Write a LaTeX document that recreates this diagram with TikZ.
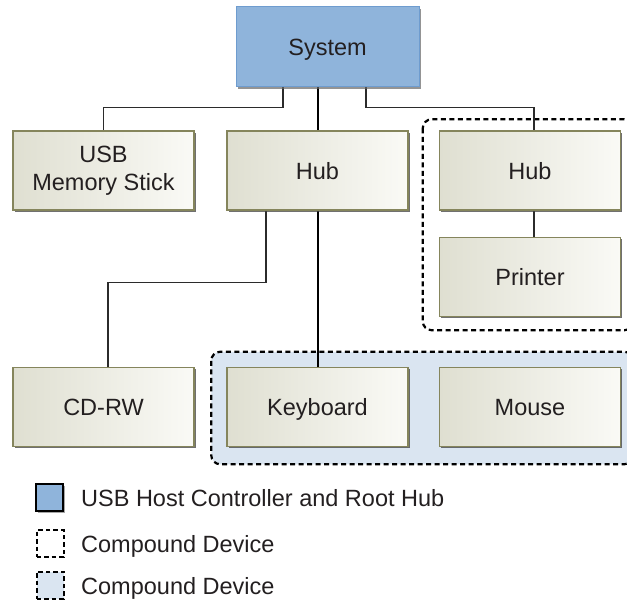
\documentclass[tikz,border=0pt]{standalone}
\usepackage{fontspec}
\setmainfont{Liberation Sans}
\usetikzlibrary{shadows,backgrounds}
\definecolor{sysblue}{HTML}{8FB4DB}
\definecolor{sysedge}{HTML}{6E9CCF}
\definecolor{boxedge}{HTML}{85855C}
\definecolor{boxleft}{HTML}{DFDFD1}
\definecolor{boxright}{HTML}{FAFAF6}
\definecolor{cmpdfill}{HTML}{DAE5F1}
\definecolor{txt}{HTML}{231F20}
\definecolor{wire}{HTML}{2B2B2B}
\tikzset{
  basebox/.style={draw=boxedge, line width=1.5pt, left color=boxleft, right color=boxright,
    minimum width=181pt, minimum height=79pt, text=txt, align=center, inner sep=0pt,
    font=\fontsize{23.5}{28}\selectfont,
    drop shadow={shadow xshift=1.6pt, shadow yshift=-1.6pt, fill=black!75, opacity=0.75}},
  devbox/.style={basebox, text height=17pt, text depth=0pt},
  sysbox/.style={draw=sysedge, line width=1pt, fill=sysblue, minimum width=183pt, minimum height=80pt,
    text=txt, inner sep=0pt, text height=17pt, text depth=0pt, font=\fontsize{23.5}{28}\selectfont,
    drop shadow={shadow xshift=1.6pt, shadow yshift=-1.6pt, fill=black!60, opacity=0.7}},
  wirethin/.style={draw=wire, line width=1.3pt},
  wirethick/.style={draw=black, line width=2pt},
  cmpd/.style={draw=black, line width=2.2pt, dash pattern=on 5pt off 3.5pt, rounded corners=9pt},
  legtext/.style={anchor=base west, text=txt, font=\fontsize{23.5}{28}\selectfont, inner sep=0pt},
  legsq/.style={minimum width=27pt, minimum height=27pt, inner sep=0pt},
}
\begin{document}
\begin{tikzpicture}[x=1pt,y=-1pt]
\useasboundingbox (0,0) rectangle (627,602);

\node[sysbox] (sys) at (327.5,47) {System};
\node[basebox] (usb) at (103.5,170.5) {USB\\Memory Stick};
\node[devbox] (hub1) at (317.5,170.5) {Hub};
\node[devbox] (hub2) at (530,170.5) {Hub};
\node[devbox] (printer) at (530,277) {Printer};
\node[devbox] (cdrw) at (103.5,407) {CD-RW};
\node[devbox] (kbd) at (317.5,407) {Keyboard};
\node[devbox] (mouse) at (530,407) {Mouse};

\begin{scope}[on background layer]
  \clip (0,0) rectangle (627,602);
  \draw[cmpd] ([xshift=-16pt,yshift=11pt]hub2.north west) rectangle ([xshift=12pt,yshift=-13pt]printer.south east);
  \draw[cmpd, fill=cmpdfill] ([xshift=-15pt,yshift=15pt]kbd.north west) rectangle ([xshift=12pt,yshift=-17pt]mouse.south east);
  \draw[wirethin] ([xshift=-44.5pt]sys.south) -- ++(0,20) -| (usb.north);
  \draw[wirethin] ([xshift=38.5pt]sys.south) -- ++(0,20) -| ([xshift=4pt]hub2.north);
  \draw[wirethick] (sys.south -| hub1.north) -- (hub1.north);
  \draw[wirethick] (hub1.south) -- (kbd.north);
  \draw[wirethin] ([xshift=-51.5pt]hub1.south) -- ++(0,72) -| ([xshift=4.5pt]cdrw.north);
  \draw[wirethin] ([xshift=4pt]hub2.south) -- ([xshift=4pt]printer.north);
\end{scope}

\node[legsq, fill=sysblue, draw=black, line width=2.5pt,
  drop shadow={shadow xshift=1.5pt, shadow yshift=-1.5pt, fill=black!50, opacity=0.7}] (legsys) at (49.5,497.5) {};
\node[legsq, draw=black, line width=2pt, dash pattern=on 4.5pt off 3pt] (legc1) at (50,543.5) {};
\node[legsq, fill=cmpdfill, draw=black, line width=2pt, dash pattern=on 4.5pt off 3pt] (legc2) at (50,585) {};
\node[legtext] (legt1) at (81,506) {USB Host Controller and Root Hub};
\node[legtext] (legt2) at (81,552) {Compound Device};
\node[legtext] (legt3) at (81,594) {Compound Device};
\end{tikzpicture}
\end{document}
